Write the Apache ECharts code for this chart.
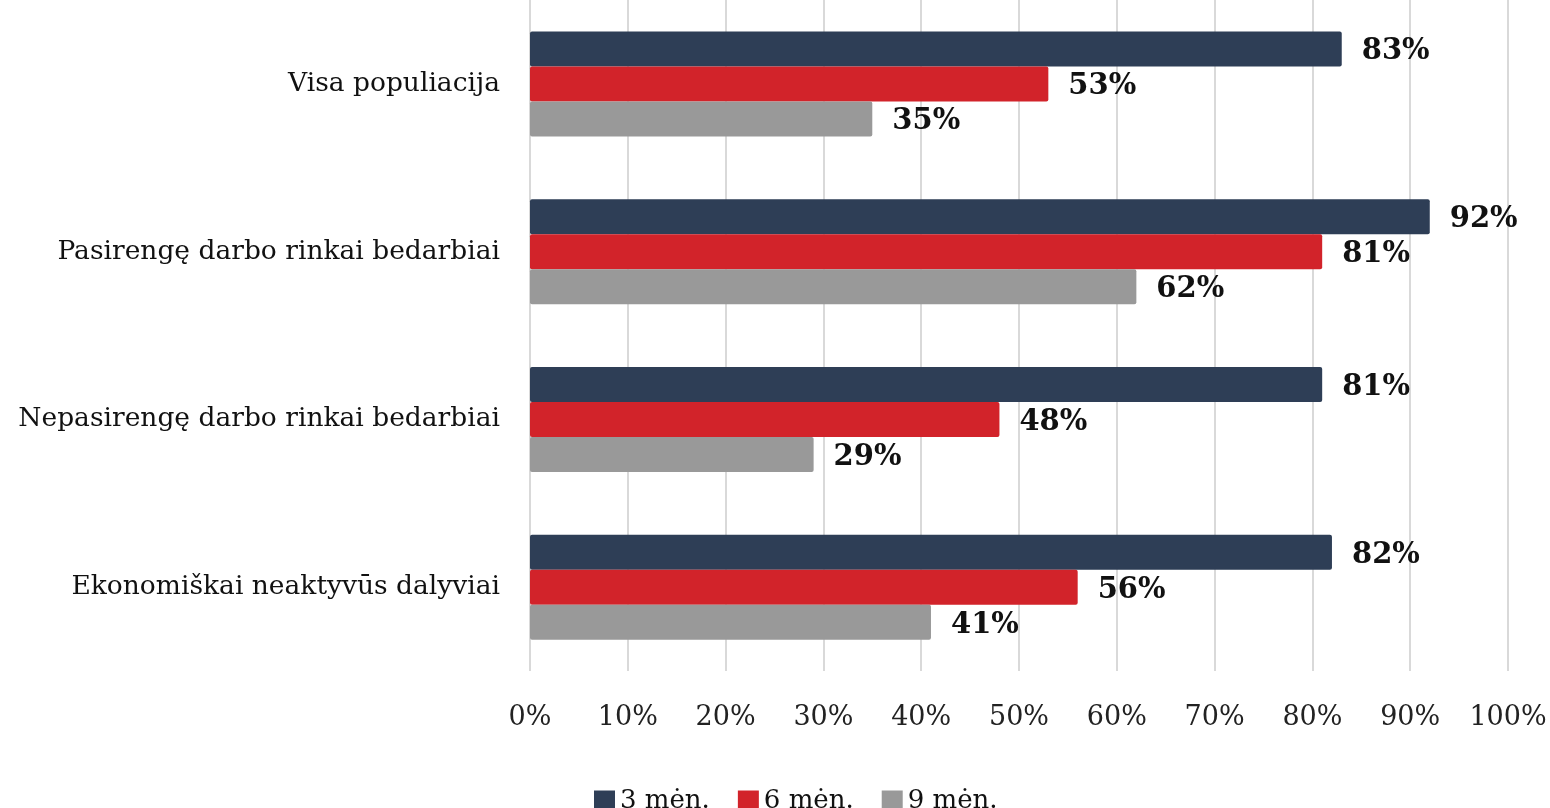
<!DOCTYPE html>
<html>
<head>
    <meta charset="utf-8">
    <title>Dalyvių dalis</title>
    <script src="https://cdn.jsdelivr.net/npm/echarts@6/dist/echarts.min.js"></script>
    <style>
        html, body {margin: 0; padding: 0; background: #fff;}
        #main {width: 1550px; height: 808px;}
    </style>
</head>
<body>
<div id="main"></div>
<script type="text/javascript">
    var categories = ['Visa populiacija', 'Pasirengę darbo rinkai bedarbiai', 'Nepasirengę darbo rinkai bedarbiai', 'Ekonomiškai neaktyvūs dalyviai'];
    var seriesNames = ['3 mėn.', '6 mėn.', '9 mėn.'];
    var values3 = [83, 92, 81, 82];
    var values6 = [53, 81, 48, 56];
    var values9 = [35, 62, 29, 41];
    var colors = ['#2E3E56', '#D2232A', '#999999'];

    var fontFamily = '"DejaVu Serif", serif';
    var chart = echarts.init(document.getElementById('main'));

    function makeSeries(name, data, color) {
        return {
            name: name,
            type: 'bar',
            data: data,
            barWidth: 35,
            barGap: '0%',
            itemStyle: {color: color, borderRadius: 2},
            label: {
                show: true,
                position: 'right',
                distance: 20,
                offset: [0, 3],
                formatter: '{c}%',
                color: '#111',
                fontFamily: fontFamily,
                fontWeight: 'bold',
                fontSize: 29
            }
        };
    }

    var option = {
        animation: false,
        color: colors,
        legend: {
            top: 783,
            left: 589,
            itemWidth: 21,
            itemHeight: 21,
            itemGap: 28,
            icon: 'rect',
            textStyle: {fontFamily: fontFamily, fontSize: 26, color: '#111'},
            data: seriesNames
        },
        grid: {left: 530, right: 42, top: 0, bottom: 137},
        xAxis: {
            type: 'value',
            min: 0,
            max: 100,
            interval: 10,
            axisLine: {show: false},
            axisTick: {show: false},
            axisLabel: {
                formatter: '{value}%',
                margin: 33,
                fontFamily: fontFamily,
                fontSize: 27,
                color: '#222'
            },
            splitLine: {show: true, lineStyle: {color: '#D9D9D9', width: 2}}
        },
        yAxis: {
            type: 'category',
            inverse: true,
            data: categories,
            axisLine: {show: false},
            axisTick: {show: false},
            axisLabel: {
                margin: 30,
                fontFamily: fontFamily,
                fontSize: 26.5,
                color: '#111'
            }
        },
        series: [
            makeSeries(seriesNames[0], values3, colors[0]),
            makeSeries(seriesNames[1], values6, colors[1]),
            makeSeries(seriesNames[2], values9, colors[2])
        ]
    };
    chart.setOption(option);
</script>
</body>
</html>
